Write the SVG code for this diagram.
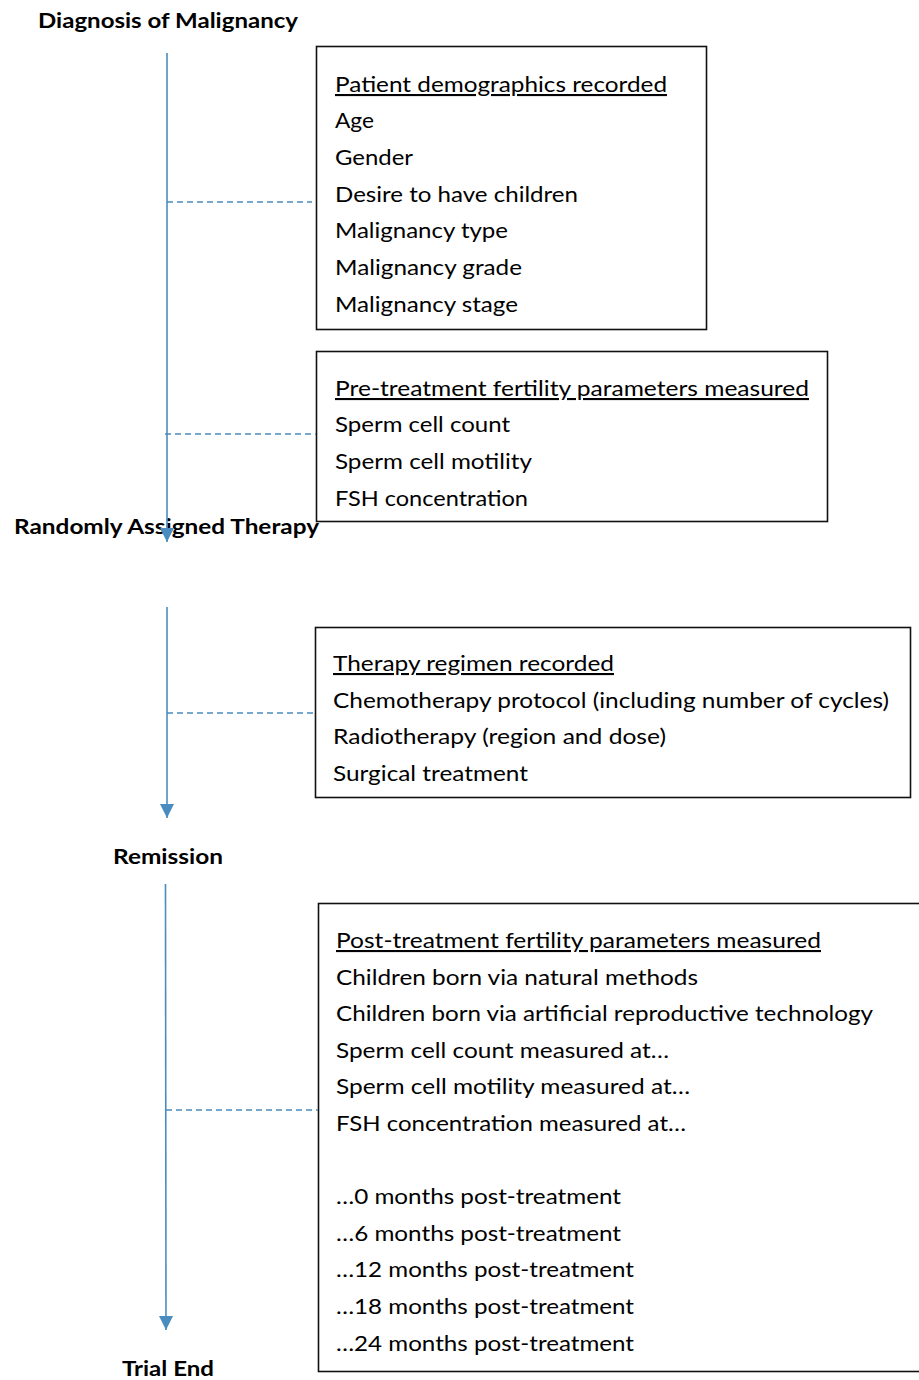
<svg xmlns="http://www.w3.org/2000/svg" width="919" height="1380" viewBox="0 0 919 1380">
<style>
.box{fill:#fff;stroke:#111;stroke-width:1.6}
.t{font-family:Lato,"Open Sans","Liberation Sans",sans-serif;font-size:21px;fill:#000}
.u{text-decoration:underline}
.h{font-family:Lato,"Open Sans","Liberation Sans",sans-serif;font-size:21px;font-weight:bold;fill:#000}
.flow{stroke:#4a8cbf;stroke-width:1.6;fill:none}
.dash{stroke:#4a8cbf;stroke-width:1.4;stroke-dasharray:6 4;fill:none}
</style>
<defs>
<marker id="ah" markerUnits="userSpaceOnUse" markerWidth="14" markerHeight="14" viewBox="0 0 14 14" refX="14" refY="7" orient="auto">
<path d="M0,0 L14,7 L0,14 z" fill="#4a8cbf"/>
</marker>
</defs>

<g id="label-diagnosis"><text class="h" x="38" y="28" textLength="260" lengthAdjust="spacingAndGlyphs">Diagnosis of Malignancy</text></g>
<g id="label-randomly"><text class="h" x="14" y="534" textLength="305" lengthAdjust="spacingAndGlyphs">Randomly Assigned Therapy</text></g>
<g id="label-remission"><text class="h" x="113" y="864" textLength="110" lengthAdjust="spacingAndGlyphs">Remission</text></g>
<g id="label-trialend"><text class="h" x="122" y="1376" textLength="92" lengthAdjust="spacingAndGlyphs">Trial End</text></g>

<g id="box-demographics">
<rect class="box" x="316.5" y="46.5" width="390" height="283"/>
<text class="t u" x="335" y="92" textLength="332" lengthAdjust="spacingAndGlyphs">Patient demographics recorded</text>
<text class="t" x="335" y="128" textLength="39" lengthAdjust="spacingAndGlyphs">Age</text>
<text class="t" x="335" y="165" textLength="78" lengthAdjust="spacingAndGlyphs">Gender</text>
<text class="t" x="335" y="202" textLength="243" lengthAdjust="spacingAndGlyphs">Desire to have children</text>
<text class="t" x="335" y="238" textLength="173" lengthAdjust="spacingAndGlyphs">Malignancy type</text>
<text class="t" x="335" y="275" textLength="187" lengthAdjust="spacingAndGlyphs">Malignancy grade</text>
<text class="t" x="335" y="312" textLength="183" lengthAdjust="spacingAndGlyphs">Malignancy stage</text>
</g>

<g id="box-pretreatment">
<rect class="box" x="316.5" y="351.5" width="511" height="170"/>
<text class="t u" x="335" y="396" textLength="474" lengthAdjust="spacingAndGlyphs">Pre-treatment fertility parameters measured</text>
<text class="t" x="335" y="432" textLength="175" lengthAdjust="spacingAndGlyphs">Sperm cell count</text>
<text class="t" x="335" y="469" textLength="197" lengthAdjust="spacingAndGlyphs">Sperm cell motility</text>
<text class="t" x="335" y="506" textLength="193" lengthAdjust="spacingAndGlyphs">FSH concentration</text>
</g>

<g id="box-therapy">
<rect class="box" x="315.5" y="627.5" width="595" height="170"/>
<text class="t u" x="333" y="671" textLength="281" lengthAdjust="spacingAndGlyphs">Therapy regimen recorded</text>
<text class="t" x="333" y="708" textLength="556" lengthAdjust="spacingAndGlyphs">Chemotherapy protocol (including number of cycles)</text>
<text class="t" x="333" y="744" textLength="333" lengthAdjust="spacingAndGlyphs">Radiotherapy (region and dose)</text>
<text class="t" x="333" y="781" textLength="195" lengthAdjust="spacingAndGlyphs">Surgical treatment</text>
</g>

<g id="box-posttreatment">
<rect class="box" x="318.5" y="903.5" width="620" height="468"/>
<text class="t u" x="336" y="948" textLength="485" lengthAdjust="spacingAndGlyphs">Post-treatment fertility parameters measured</text>
<text class="t" x="336" y="985" textLength="362" lengthAdjust="spacingAndGlyphs">Children born via natural methods</text>
<text class="t" x="336" y="1021" textLength="537" lengthAdjust="spacingAndGlyphs">Children born via artificial reproductive technology</text>
<text class="t" x="336" y="1058" textLength="333" lengthAdjust="spacingAndGlyphs">Sperm cell count measured at…</text>
<text class="t" x="336" y="1094" textLength="354" lengthAdjust="spacingAndGlyphs">Sperm cell motility measured at…</text>
<text class="t" x="336" y="1131" textLength="350" lengthAdjust="spacingAndGlyphs">FSH concentration measured at…</text>
<text class="t" x="336" y="1204" textLength="285" lengthAdjust="spacingAndGlyphs">…0 months post-treatment</text>
<text class="t" x="336" y="1241" textLength="285" lengthAdjust="spacingAndGlyphs">…6 months post-treatment</text>
<text class="t" x="336" y="1277" textLength="298" lengthAdjust="spacingAndGlyphs">…12 months post-treatment</text>
<text class="t" x="336" y="1314" textLength="298" lengthAdjust="spacingAndGlyphs">…18 months post-treatment</text>
<text class="t" x="336" y="1351" textLength="298" lengthAdjust="spacingAndGlyphs">…24 months post-treatment</text>
</g>

<g id="connectors">
<line class="flow" x1="167" y1="53" x2="167" y2="542" marker-end="url(#ah)"/>
<line class="flow" x1="167" y1="607" x2="167" y2="818" marker-end="url(#ah)"/>
<line class="flow" x1="165.5" y1="884" x2="166" y2="1330" marker-end="url(#ah)"/>
<line class="dash" x1="167" y1="202" x2="312" y2="202"/>
<line class="dash" x1="165" y1="434" x2="316" y2="434"/>
<line class="dash" x1="167" y1="713" x2="315" y2="713"/>
<line class="dash" x1="166" y1="1110" x2="318" y2="1110"/>
</g>
</svg>
